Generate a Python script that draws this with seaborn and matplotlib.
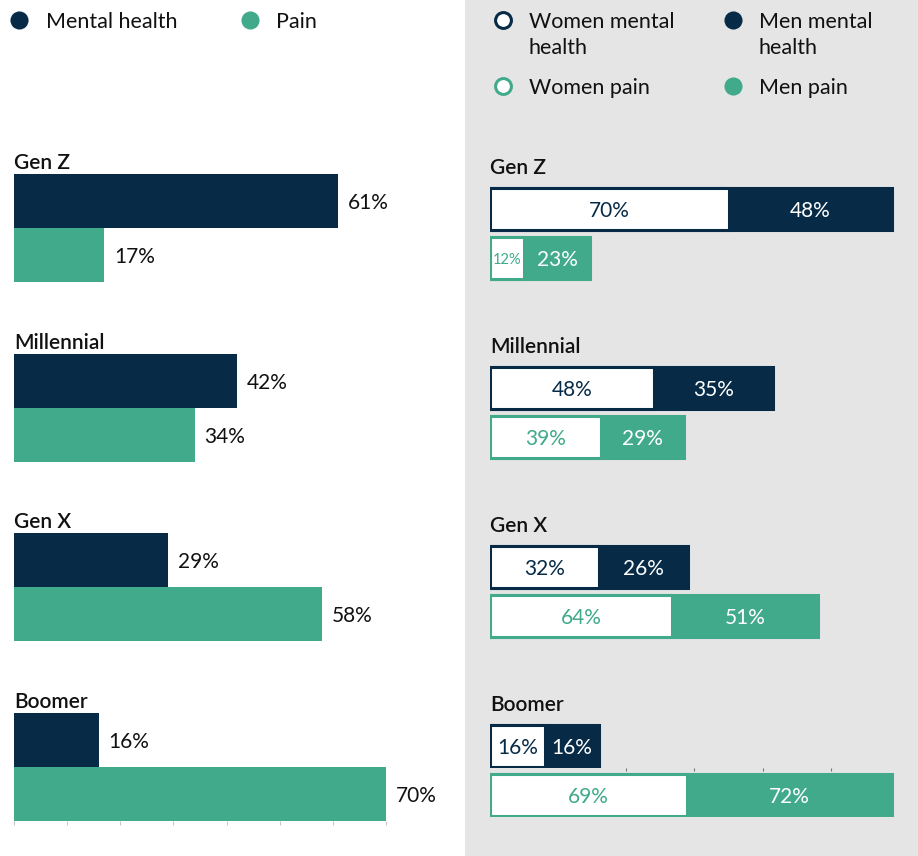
import numpy as np
import pandas as pd
import matplotlib
matplotlib.use("Agg")
import matplotlib.pyplot as plt
import seaborn as sns
from matplotlib.patches import Rectangle

# Share of respondents reporting each condition, by generation
generations = ["Gen Z", "Millennial", "Gen X", "Boomer"]
mental_health = [61, 42, 29, 16]
pain = [17, 34, 58, 70]

# Split by gender
women_mental = [70, 48, 32, 16]
men_mental = [48, 35, 26, 16]
women_pain = [12, 39, 64, 69]
men_pain = [23, 29, 51, 72]

NAVY = "#072b47"
TEAL = "#40aa8a"
PANEL = "#e5e5e5"
INK = "#111111"

sns.set_style("white")
plt.rcParams["font.family"] = ["Lato", "DejaVu Sans"]

W, H = 918, 856
fig = plt.figure(figsize=(W / 100, H / 100), dpi=100)

VA = "center_baseline"


def box(x0, y0, x1, y1):
    """Pixel box (top-left origin) -> figure-fraction rect."""
    return [x0 / W, 1 - y1 / H, (x1 - x0) / W, (y1 - y0) / H]


# Background layer: grey panel behind the gender breakdown, plus legends
bg = fig.add_axes([0, 0, 1, 1])
bg.set_xlim(0, W)
bg.set_ylim(H, 0)
bg.axis("off")
bg.add_patch(Rectangle((465, 0), W - 465, H, color=PANEL, zorder=0, lw=0))

LEG_FS = 15.5
bg.scatter([19], [20], s=170, color=NAVY, lw=0)
bg.text(46, 20, "Mental health", fontsize=LEG_FS, va=VA, color=INK)
bg.scatter([250], [20], s=170, color=TEAL, lw=0)
bg.text(276, 20, "Pain", fontsize=LEG_FS, va=VA, color=INK)

bg.scatter([503], [20], s=130, facecolor="white", edgecolor=NAVY, lw=2.2)
bg.text(529, 20, "Women mental", fontsize=LEG_FS, va=VA, color=INK)
bg.text(529, 46, "health", fontsize=LEG_FS, va=VA, color=INK)
bg.scatter([733], [20], s=170, color=NAVY, lw=0)
bg.text(759, 20, "Men mental", fontsize=LEG_FS, va=VA, color=INK)
bg.text(759, 46, "health", fontsize=LEG_FS, va=VA, color=INK)
bg.scatter([503], [86], s=130, facecolor="white", edgecolor=TEAL, lw=2.2)
bg.text(529, 86, "Women pain", fontsize=LEG_FS, va=VA, color=INK)
bg.scatter([733], [86], s=170, color=TEAL, lw=0)
bg.text(759, 86, "Men pain", fontsize=LEG_FS, va=VA, color=INK)

VAL_FS = 15
CAT_FS = 15

# ---- Left: overall by generation -------------------------------------------
left = pd.DataFrame({
    "generation": generations * 2,
    "measure": ["Mental health"] * 4 + ["Pain"] * 4,
    "value": mental_health + pain,
})
axL = fig.add_axes(box(14, 138, 386, 821))
sns.barplot(data=left, y="generation", x="value", hue="measure",
            palette=[NAVY, TEAL], width=0.6, saturation=1, errorbar=None,
            linewidth=0, legend=False, ax=axL)
for cont in axL.containers:
    for bar in cont:
        v = bar.get_width()
        axL.annotate(f"{v:g}%", (v, bar.get_y() + bar.get_height() / 2),
                     xytext=(7, 0), textcoords="offset points",
                     ha="left", va=VA, fontsize=VAL_FS, color=INK)
for i, g in enumerate(generations):
    axL.text(0, i - 0.3 - 0.072, g, ha="left", va=VA, fontsize=CAT_FS,
             fontweight="semibold", color=INK, clip_on=False)
axL.set_xlim(0, 70)
axL.set_ylim(3.3, -0.5)
axL.set_xticks(np.arange(0, 71, 10))
axL.set_yticks([])
axL.tick_params(axis="x", bottom=True, length=3, width=0.8, color="#c8c8c8",
                labelbottom=False)
axL.set_xlabel("")
axL.set_ylabel("")
for s in axL.spines.values():
    s.set_visible(False)
axL.patch.set_alpha(0)

# ---- Right: stacked women / men bars ---------------------------------------
EDGE = 2.2


def stacked(ax, women, men, color, women_text, xmax):
    total = [w + m for w, m in zip(women, men)]
    sns.barplot(y=generations, x=total, color=color, edgecolor=color,
                linewidth=EDGE, width=0.24, saturation=1, errorbar=None, ax=ax)
    sns.barplot(y=generations, x=women, color="white", edgecolor=color,
                linewidth=EDGE, width=0.24, saturation=1, errorbar=None, ax=ax)
    for i, (w, m) in enumerate(zip(women, men)):
        fs = VAL_FS if w >= 15 else 10.5
        ax.text(w / 2, i, f"{w}%", ha="center", va=VA,
                fontsize=fs, color=women_text)
        ax.text(w + m / 2, i, f"{m}%", ha="center", va=VA,
                fontsize=VAL_FS, color="white")
    ax.set_xlim(0, xmax)
    ax.set_ylim(3.12, -0.5)
    ax.set_yticks([])
    ax.set_xlabel("")
    ax.set_ylabel("")
    for s in ax.spines.values():
        s.set_visible(False)
    ax.patch.set_alpha(0)


axP = fig.add_axes(box(490, 168.5, 905, 816.5))
stacked(axP, women_pain, men_pain, TEAL, TEAL, 145.6)
axP.set_xticks([])

axM = fig.add_axes(box(490, 119.5, 905, 767.5))
stacked(axM, women_mental, men_mental, NAVY, NAVY, 121.8)
axM.set_xticks(np.arange(40, 101, 20))
axM.tick_params(axis="x", bottom=True, length=2, width=0.8, color="#777777",
                labelbottom=False)
for i, g in enumerate(generations):
    axM.text(0, i - 0.24, g, ha="left", va=VA, fontsize=CAT_FS,
             fontweight="semibold", color=INK, clip_on=False)

fig.savefig("out.png", dpi=100)
